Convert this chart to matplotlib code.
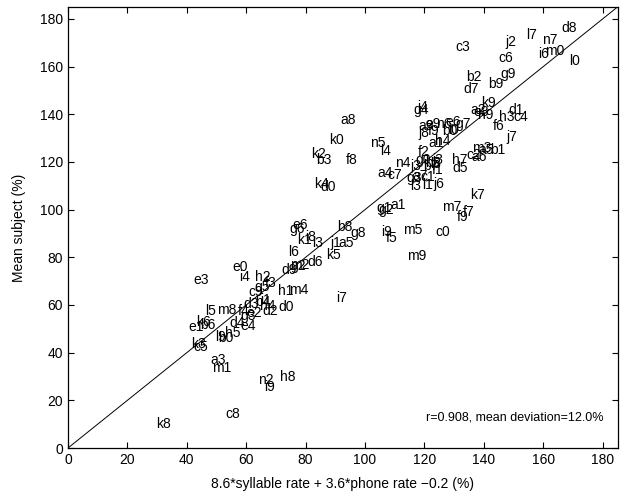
import matplotlib
matplotlib.use("Agg")
import matplotlib.pyplot as plt

plt.rcParams['font.family'] = ['Liberation Sans', 'DejaVu Sans']

labels = ["l7", "d8", "j2", "n7", "c3", "i6", "m0", "c6", "l0", "g9", "b2", "b9", "d7",
          "a8", "k0", "n5", "l4", "k2", "b3", "f8", "n4", "a4", "c7", "k4", "d0",
          "g4", "j4", "k9", "d1", "h3", "c4", "f6", "j7",
          "a9", "e9", "j8", "f9", "n6", "e6", "g7", "b0", "i0", "a1", "h4", "e8", "h9", "a2",
          "f2", "g0", "b5", "i3", "h7", "m3", "a6", "c2", "a5", "b1", "d5", "l8", "j3", "b7",
          "f1", "g3", "a7", "c1", "l3", "l1", "j6",
          "k7", "m7", "f7", "f9", "c0", "m5", "m9", "i9", "f5", "g1", "g2", "a1",
          "b8", "g8", "j1", "a5", "k5", "e6", "g6", "k1", "i8", "l3", "l6", "m2", "d6",
          "d9", "g2", "e0", "i4", "h2", "f3", "e3", "c9", "q5", "h1", "m4", "i7", "i1",
          "d3", "l5", "m8", "f4", "g3", "e2", "d2", "d0", "h4", "b4",
          "e1", "k6", "b6", "d4", "e4", "h5", "l9", "b0", "k3", "c5", "a3", "m1",
          "n2", "i9", "h8", "c8", "k8"]
x_vals = [154.2, 166.0, 147.1, 159.6, 130.3, 158.2, 160.6, 144.8, 168.7, 145.5, 134.0, 141.4, 133.0,
          91.6, 87.9, 101.7, 105.0, 81.8, 83.5, 93.6, 110.1, 104.0, 107.4, 82.8, 84.8,
          116.2, 117.5, 139.0, 148.1, 145.1, 149.8, 143.1, 147.5,
          117.8, 120.2, 117.8, 121.2, 123.9, 126.9, 130.3, 125.9, 127.9, 121.2, 123.6, 136.4, 138.0, 135.4,
          117.8, 116.8, 120.2, 122.6, 129.3, 136.0, 135.7, 134.0, 138.0, 142.1, 129.3, 121.9, 115.2, 119.5,
          122.6, 113.8, 115.8, 118.5, 115.2, 119.2, 122.9,
          135.4, 125.9, 133.0, 131.0, 123.6, 112.8, 114.1, 105.4, 107.0, 103.7, 104.4, 108.4,
          90.6, 94.9, 88.2, 90.9, 86.9, 75.4, 74.4, 77.1, 79.8, 82.2, 74.1, 74.7, 80.5,
          71.7, 75.0, 55.2, 57.6, 63.0, 66.3, 42.1, 60.6, 62.6, 70.7, 74.4, 90.2, 64.6,
          58.9, 46.1, 50.2, 57.2, 57.9, 59.9, 65.3, 70.7, 64.6, 63.0,
          40.4, 43.1, 44.4, 54.2, 57.9, 52.9, 49.5, 50.5, 41.4, 42.1, 47.8, 48.5,
          64.0, 66.0, 71.4, 52.9, 29.6]
y_vals = [173.3, 176.2, 170.3, 171.2, 168.3, 165.3, 166.6, 163.7, 162.4, 157.0, 155.7, 152.7, 150.6,
          137.6, 129.2, 128.0, 124.6, 123.4, 120.9, 120.9, 119.6, 115.4, 114.6, 110.8, 109.5,
          141.8, 143.1, 144.8, 141.8, 138.9, 138.9, 135.1, 130.5,
          135.1, 135.9, 132.2, 133.0, 136.0, 136.8, 136.0, 133.0, 133.4, 128.0, 128.8, 141.0, 139.7, 141.8,
          124.2, 120.9, 119.6, 120.9, 120.9, 125.9, 122.1, 122.9, 125.0, 125.0, 117.5, 119.2, 118.4, 118.4,
          116.7, 113.3, 114.2, 113.8, 110.0, 110.4, 110.8,
          106.2, 101.1, 99.0, 96.9, 90.6, 91.5, 80.6, 90.6, 88.1, 100.7, 100.0, 102.0,
          92.7, 90.2, 86.0, 86.0, 81.0, 93.6, 91.9, 87.3, 88.5, 86.0, 82.2, 76.8, 78.0,
          74.7, 76.3, 76.0, 71.8, 71.8, 69.2, 70.5, 65.5, 67.6, 65.9, 66.3, 62.9, 62.1,
          60.4, 57.5, 57.9, 57.5, 55.4, 56.7, 57.5, 59.2, 59.6, 61.3,
          50.8, 52.9, 51.6, 52.5, 51.2, 48.3, 46.6, 46.2, 43.6, 42.4, 36.9, 33.6,
          28.5, 25.6, 29.8, 14.3, 10.1]

xticks = [0, 20, 40, 60, 80, 100, 120, 140, 160, 180]
yticks = [0, 20, 40, 60, 80, 100, 120, 140, 160, 180]
lim = 185
stats_text = "r=0.908, mean deviation=12.0%"

fig = plt.figure(figsize=(6.25, 4.97), dpi=100)
ax = fig.add_axes([68 / 625, 49 / 497, 549.5 / 625, 441 / 497])

ax.plot([0, lim], [0, lim], color='black', linewidth=0.7)
for lab, xv, yv in zip(labels, x_vals, y_vals):
    ax.text(xv, yv, lab, ha='left', va='center', fontsize=10, color='black')

ax.text(120.5, 13, stats_text, ha='left', va='center', fontsize=9)

ax.set_xlim(0, lim)
ax.set_ylim(0, lim)
ax.set_xticks(xticks)
ax.set_yticks(yticks)
ax.tick_params(direction='in', top=True, right=True, length=4, width=0.8, labelsize=10)
for s in ax.spines.values():
    s.set_linewidth(0.9)
ax.set_xlabel("8.6*syllable rate + 3.6*phone rate \u22120.2 (%)", fontsize=10, labelpad=7)
ax.set_ylabel("Mean subject (%)", fontsize=10, labelpad=10)

fig.savefig("out.png", dpi=100)
